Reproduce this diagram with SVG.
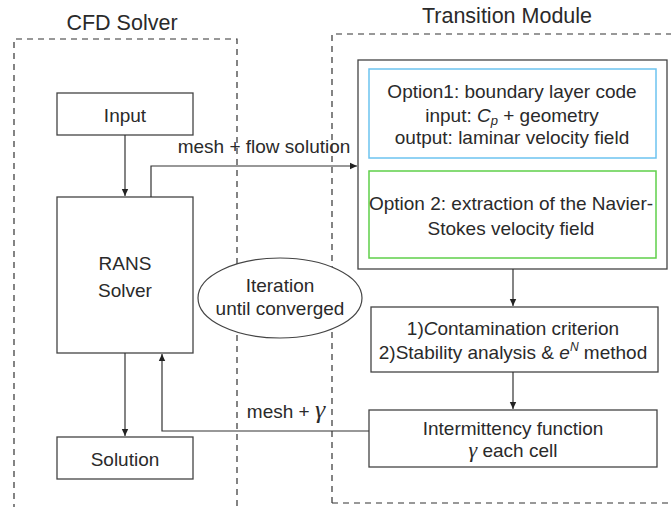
<svg xmlns="http://www.w3.org/2000/svg" width="671" height="507" viewBox="0 0 671 507">
<style>
text{font-family:"Liberation Sans",Arial,sans-serif;fill:#2a2a2a;text-anchor:middle;font-size:19px}
.t{font-size:21.5px}
.g{font-family:"Liberation Serif","Times New Roman",serif;font-style:italic}
.box{fill:#fff;stroke:#444;stroke-width:1.3}
.dash{fill:none;stroke:#333;stroke-width:1.2;stroke-dasharray:6 5}
.ln{fill:none;stroke:#333;stroke-width:1.2}
</style>
<defs>
<marker id="ah" markerWidth="8" markerHeight="8" refX="7" refY="4" orient="auto" markerUnits="userSpaceOnUse">
<path d="M0,0.8 L7,4 L0,7.2 Z" fill="#222"/>
</marker>
</defs>
<rect width="671" height="507" fill="#fff"/>
<g id="cfd-solver">
<path class="dash" d="M14,510 V39 H237 V510"/>
<text class="t" x="122" y="30">CFD Solver</text>
</g>
<g id="transition-module">
<path class="dash" d="M332,503 V34 H680 M332,503 H680"/>
<text class="t" x="507" y="23">Transition Module</text>
</g>
<g id="options-box">
<rect class="box" x="358" y="60" width="309" height="209"/>
</g>
<g id="option1">
<rect x="369" y="69" width="287" height="89" fill="#fff" stroke="#6cc3f0" stroke-width="1.5"/>
<text x="512" y="98">Option1: boundary layer code</text>
<text x="512" y="122">input: <tspan font-style="italic">C</tspan><tspan font-style="italic" font-size="13" dy="3">p</tspan><tspan dy="-3"> + geometry</tspan></text>
<text x="512" y="144">output: laminar velocity field</text>
</g>
<g id="option2">
<rect x="369" y="171" width="287" height="87" fill="#fff" stroke="#5fcf4a" stroke-width="1.5"/>
<text x="511" y="210" font-size="18.5">Option 2: extraction of the Navier-</text>
<text x="511" y="235">Stokes velocity field</text>
</g>
<g id="input">
<rect class="box" x="57" y="93" width="136" height="42"/>
<text x="125" y="122">Input</text>
</g>
<g id="rans">
<rect class="box" x="57" y="197" width="136" height="156"/>
<text x="125" y="270">RANS</text>
<text x="125" y="297">Solver</text>
</g>
<g id="solution">
<rect class="box" x="57" y="437" width="136" height="42"/>
<text x="125" y="466">Solution</text>
</g>
<g id="criteria">
<rect class="box" x="371" y="307" width="287" height="65"/>
<text x="513" y="335">1)<tspan font-style="italic">C</tspan>ontamination criterion</text>
<text x="513" y="359">2)Stability analysis &amp; <tspan font-style="italic">e</tspan><tspan font-style="italic" font-size="12" dy="-8">N</tspan><tspan dy="8"> method</tspan></text>
</g>
<g id="intermittency">
<rect class="box" x="369" y="410" width="288" height="57"/>
<text x="513" y="435">Intermittency function</text>
<text x="513" y="457"><tspan class="g" font-size="22">γ</tspan> each cell</text>
</g>
<g id="iteration">
<ellipse cx="280" cy="298" rx="82" ry="40" fill="#fff" stroke="#444" stroke-width="1.2"/>
<text x="280" y="292">Iteration</text>
<text x="280" y="315">until converged</text>
</g>
<g id="connectors">
<path class="ln" d="M125,135 V196" marker-end="url(#ah)"/>
<path class="ln" d="M125,353 V436" marker-end="url(#ah)"/>
<path class="ln" d="M151,197 V166 H357" marker-end="url(#ah)"/>
<path class="ln" d="M513,269 V306" marker-end="url(#ah)"/>
<path class="ln" d="M513,372 V409" marker-end="url(#ah)"/>
<path class="ln" d="M369,431 H162 V354" marker-end="url(#ah)"/>
<text x="264" y="153">mesh + flow solution</text>
<text x="286" y="418">mesh + <tspan class="g" font-size="26">γ</tspan></text>
</g>
</svg>
